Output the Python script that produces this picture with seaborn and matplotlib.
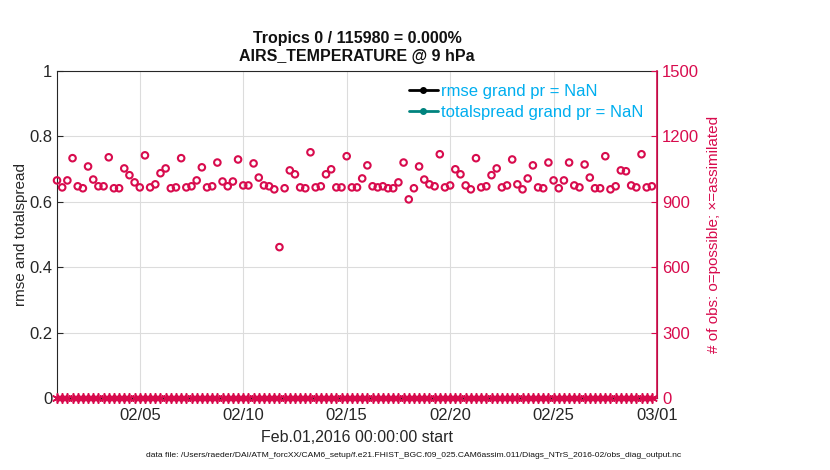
import numpy as np
import pandas as pd
import matplotlib
matplotlib.use("Agg")
import matplotlib.pyplot as plt
import matplotlib.dates as mdates
import seaborn as sns

# observation counts every 6 hours (o = possible)
n_possible = [
    998, 966, 998, 1100, 971, 962, 1062, 1002, 971, 971, 1104, 962, 962, 1053, 1022, 989,
    966, 1113, 966, 980, 1031, 1053, 962,
    966, 1100, 966, 971, 998, 1058, 966, 971, 1080, 993, 971, 993, 1094, 975, 975, 1076,
    1011, 975, 971, 957, 692, 962, 1044, 1026,
    966, 962, 1127, 966, 971, 1026, 1049, 966, 966, 1109, 966, 966, 1007, 1067, 971, 966,
    971, 962, 962, 989, 1080, 911, 962,
    1062, 1002, 980, 971, 1118, 966, 975, 1049, 1026, 975, 957, 1100, 966, 971, 1022, 1053,
    966, 975, 1094, 980, 957, 1007, 1067,
    966, 962, 1080, 998, 962, 998, 1080, 975, 966, 1071, 1011, 962, 962, 1109, 957, 971,
    1044, 1040, 975, 966, 1118, 966, 971,
]
times = pd.date_range("2016-02-01 00:00", periods=len(n_possible), freq="6h")
n_assim = [0] * len(n_possible)
rmse = [np.nan] * len(n_possible)
spread = [np.nan] * len(n_possible)

date_ticks = pd.to_datetime(["2016-02-05", "2016-02-10", "2016-02-15",
                             "2016-02-20", "2016-02-25", "2016-03-01"])

df = pd.DataFrame({"time": times, "possible": n_possible, "assim": n_assim,
                   "rmse": rmse, "spread": spread})

sns.set_style("white")
plt.rcParams["font.family"] = ["Liberation Sans", "DejaVu Sans"]

pink = "#D80B4D"
blue = "#00AEEF"

fig = plt.figure(figsize=(8.3, 4.7), dpi=100)
ax = fig.add_axes([0.0687, 0.1532, 0.7229, 0.6958])
ax2 = ax.twinx()

# rmse / totalspread (all NaN here)
ax.plot(df["time"], df["rmse"], "-o", color="k", ms=4, lw=2,
        label="rmse grand pr = NaN")
ax.plot(df["time"], df["spread"], "-o", color="#00837E", ms=4, lw=2,
        label="totalspread grand pr = NaN")

sns.scatterplot(data=df, x="time", y="possible", ax=ax2, marker="o",
                facecolor="none", edgecolor=pink, linewidth=1.5, s=22, clip_on=False)
sns.scatterplot(data=df, x="time", y="assim", ax=ax2, marker=(6, 2, 0),
                color=pink, edgecolor=pink, linewidth=1.2, s=45, clip_on=False)

ax.set_xlim(pd.Timestamp("2016-02-01"), pd.Timestamp("2016-03-01"))
ax.set_ylim(0, 1)
ax.set_yticks([0, 0.2, 0.4, 0.6, 0.8, 1])
ax.set_yticklabels(["0", "0.2", "0.4", "0.6", "0.8", "1"])
ax2.set_ylim(0, 1500)
ax2.set_yticks([0, 300, 600, 900, 1200, 1500])
ax.set_xticks(date_ticks)
ax.xaxis.set_major_formatter(mdates.DateFormatter("%m/%d"))

ax.grid(True, color="#DCDCDC", lw=0.8)
ax.set_axisbelow(True)
ax.tick_params(direction="in", labelsize=12, colors="#262626", length=4)
ax.tick_params(axis="x", pad=7)
ax2.tick_params(direction="in", labelsize=12, colors=pink, length=4)
for s in ["left", "top", "bottom"]:
    ax.spines[s].set_color("#262626")
ax2.spines["right"].set_color(pink)
ax2.spines["right"].set_linewidth(1.2)
ax2.spines["top"].set_visible(False)
ax2.spines["left"].set_visible(False)
ax2.spines["bottom"].set_visible(False)

ax.set_xlabel("Feb.01,2016 00:00:00 start", fontsize=11.5, color="#262626", labelpad=5)
ax.set_ylabel("rmse and totalspread", fontsize=11, color="#262626", labelpad=1)
ax2.set_ylabel("# of obs: o=possible; \u00d7=assimilated", fontsize=11, color=pink, labelpad=6)

ax.set_title("Tropics 0 / 115980 = 0.000%\nAIRS_TEMPERATURE @ 9 hPa",
             fontsize=11.5, fontweight="bold", color="#111111", linespacing=1.25, pad=7)

leg = ax.legend(loc="upper right", frameon=False, fontsize=12, handlelength=1.75,
                handletextpad=0.2, borderaxespad=0.4, labelspacing=0.35,
                bbox_to_anchor=(1.0, 1.0))
for t in leg.get_texts():
    t.set_color(blue)

fig.text(0.498, 0.028, "data file: /Users/raeder/DAI/ATM_forcXX/CAM6_setup/f.e21.FHIST_BGC.f09_025.CAM6assim.011/Diags_NTrS_2016-02/obs_diag_output.nc",
         fontsize=6.1, ha="center", color="#111111")

fig.savefig("out.png", dpi=100)
